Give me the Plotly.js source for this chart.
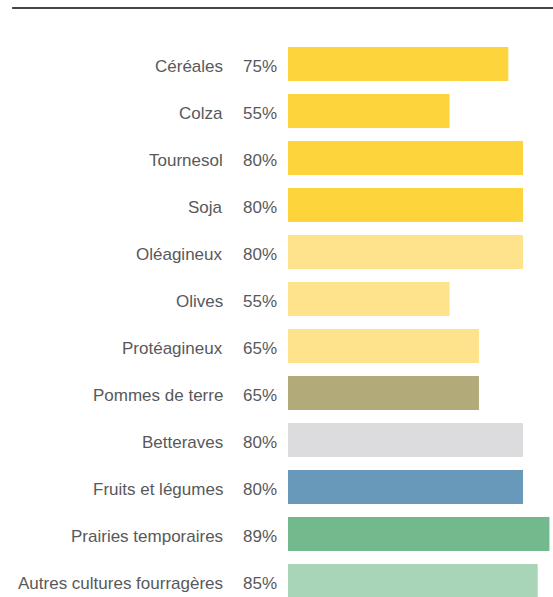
<!DOCTYPE html>
<html>
<head>
<meta charset="utf-8">
<script src="https://cdn.plot.ly/plotly-3.0.1.min.js"></script>
<style>html,body{margin:0;padding:0;background:#fff;}#chart{width:553px;height:597px;}</style>
</head>
<body>
<div id="chart"></div>
<script>
const categories = ["Céréales","Colza","Tournesol","Soja","Oléagineux","Olives","Protéagineux","Pommes de terre","Betteraves","Fruits et légumes","Prairies temporaires","Autres cultures fourragères"];
const values = [75,55,80,80,80,55,65,65,80,80,89,85];
const colors = ["#FDD43C","#FDD43C","#FDD43C","#FDD43C","#FFE38C","#FFE38C","#FFE38C","#B3AA7A","#DCDCDE","#6899BB","#73B98E","#A8D5B7"];

const FONT = "'Liberation Sans', Arial, sans-serif";
const TXT = "#58595B";

const annotations = [];
categories.forEach((c, i) => {
  annotations.push({x: -0.2386, y: c, xref: 'paper', yref: 'y', text: c, showarrow: false, xanchor: 'right', yanchor: 'middle', yshift: -2, font: {family: FONT, size: 17, color: TXT}});
  annotations.push({x: -0.0341, y: c, xref: 'paper', yref: 'y', text: values[i] + '%', showarrow: false, xanchor: 'right', yanchor: 'middle', yshift: -2, font: {family: FONT, size: 17, color: TXT}});
});

const data = [{
  type: 'bar', orientation: 'h', x: values, y: categories,
  marker: {color: colors, line: {width: 0}}, width: 0.72, hoverinfo: 'none'
}];

const layout = {
  width: 553, height: 597,
  margin: {l: 288, r: 1, t: 40, b: 0, pad: 0},
  paper_bgcolor: '#fff', plot_bgcolor: '#fff',
  showlegend: false,
  xaxis: {range: [0, 89.87], showgrid: false, zeroline: false, showticklabels: false, showline: false, ticks: ''},
  yaxis: {type: 'category', range: [11.34, -0.5106], showgrid: false, zeroline: false, showticklabels: false, showline: false, ticks: ''},
  annotations: annotations,
  shapes: [{type: 'line', xref: 'paper', yref: 'paper', x0: -1.045, x1: 1.01, y0: 1.0575, y1: 1.0575, line: {color: '#444', width: 2}}]
};

Plotly.newPlot('chart', data, layout, {staticPlot: true, displayModeBar: false});
</script>
</body>
</html>
